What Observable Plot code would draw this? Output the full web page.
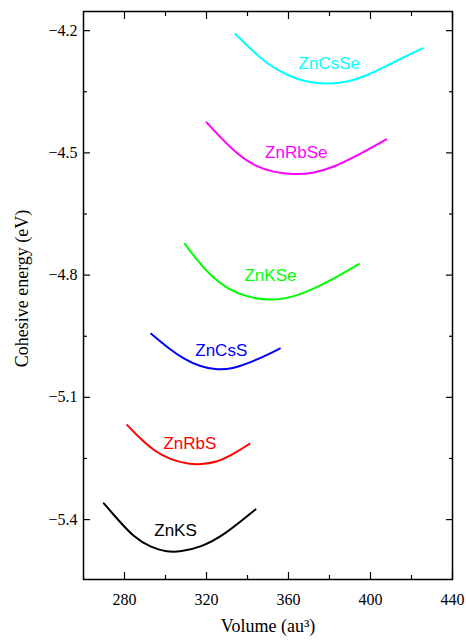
<!DOCTYPE html>
<html><head><meta charset="utf-8">
<script src="https://cdn.jsdelivr.net/npm/d3@7"></script>
<script src="https://cdn.jsdelivr.net/npm/@observablehq/plot@0.6"></script>
<style>body{margin:0;background:#fff}#chart svg{display:block}</style>
</head><body><div id="chart"></div>
<script>
const names  = ["ZnKS", "ZnRbS", "ZnCsS", "ZnKSe", "ZnRbSe", "ZnCsSe"];
const colors = ["#000000", "#ff0000", "#0000ff", "#00ff00", "#ff00ff", "#00ffff"];

const volZnKS   = [269.9, 276.4, 284.5, 292.7, 300.8, 307.3, 317.1, 328.4, 343.9];
const eZnKS     = [-5.360, -5.398, -5.443, -5.468, -5.480, -5.479, -5.468, -5.439, -5.375];
const volZnRbS  = [281.3, 287.8, 294.3, 302.4, 310.6, 317.1, 325.2, 333.3, 341.0];
const eZnRbS    = [-5.168, -5.202, -5.231, -5.253, -5.263, -5.265, -5.259, -5.239, -5.214];
const volZnCsS  = [293.0, 300.8, 308.9, 317.1, 325.2, 333.3, 341.5, 349.6, 355.8];
const eZnCsS    = [-4.944, -4.977, -5.006, -5.025, -5.033, -5.029, -5.014, -4.996, -4.980];
const volZnKSe  = [309.4, 315.5, 322.0, 330.1, 339.9, 351.2, 362.6, 374.0, 385.4, 394.3];
const eZnKSe    = [-4.723, -4.764, -4.801, -4.834, -4.854, -4.863, -4.854, -4.830, -4.799, -4.773];
const volZnRbSe = [320.0, 326.8, 335.0, 343.1, 352.8, 362.6, 372.3, 382.1, 393.5, 407.7];
const eZnRbSe   = [-4.425, -4.462, -4.503, -4.531, -4.548, -4.553, -4.550, -4.535, -4.507, -4.467];
const volZnCsSe = [334.1, 341.5, 349.6, 359.4, 369.1, 378.9, 388.6, 398.4, 408.1, 417.9, 425.5];
const eZnCsSe   = [-4.208, -4.245, -4.282, -4.310, -4.327, -4.331, -4.327, -4.310, -4.286, -4.261, -4.243];

const labelVol = [304.9, 311.9, 327.2, 351.2, 363.8, 379.9];
const labelE   = [-5.426, -5.213, -4.984, -4.801, -4.499, -4.280];

const xMajor = [280, 320, 360, 400, 440];
const xMinor = [300, 340, 380, 420];
const yMajor = [-5.4, -5.1, -4.8, -4.5, -4.2];
const yMinor = [-5.25, -4.95, -4.65, -4.35];

const xTitle = "Volume (au³)";
const yTitle = "Cohesive energy (eV)";

const vols = [volZnKS, volZnRbS, volZnCsS, volZnKSe, volZnRbSe, volZnCsSe];
const es   = [eZnKS, eZnRbS, eZnCsS, eZnKSe, eZnRbSe, eZnCsSe];
const series = names.map((n, i) => vols[i].map((v, j) => ({name: n, v, e: es[i][j]})));
const labels = names.map((n, i) => ({name: n, v: labelVol[i], e: labelE[i], color: colors[i]}));
const fmt = d => "\u2212" + Math.abs(d).toFixed(1);

const tickAxes = [];
for (const [anchor, size, ticks] of [["bottom", -7, xMajor], ["bottom", -4, xMinor], ["top", -7, xMajor], ["top", -4, xMinor]]) {
  tickAxes.push(Plot.axisX(ticks, {anchor, tickSize: size, fill: "none", label: null, strokeWidth: 1.2}));
}
for (const [anchor, size, ticks] of [["left", -7, yMajor], ["left", -4, yMinor], ["right", -7, yMajor], ["right", -4, yMinor]]) {
  tickAxes.push(Plot.axisY(ticks, {anchor, tickSize: size, fill: "none", label: null, strokeWidth: 1.2}));
}

const chart = Plot.plot({
  width: 466,
  height: 640,
  marginLeft: 83,
  marginRight: 14,
  marginTop: 11,
  marginBottom: 61,
  style: {fontFamily: "'Liberation Serif', 'Times New Roman', serif", fontSize: "16px", color: "#000", background: "#fff"},
  x: {domain: [260, 440]},
  y: {domain: [-5.547, -4.153]},
  marks: [
    ...series.map((s, i) => Plot.line(s, {x: "v", y: "e", stroke: colors[i], strokeWidth: 2, curve: "basis"})),
    Plot.text(labels, {x: "v", y: "e", text: "name", fill: "color", fontFamily: "'Liberation Sans', Arial, sans-serif", fontSize: 17, lineAnchor: "middle"}),
    ...tickAxes,
    Plot.axisX(xMajor, {anchor: "bottom", tickSize: 0, tickPadding: 14, label: null, fontSize: 16}),
    Plot.text(yMajor, {y: d => d, text: fmt, frameAnchor: "left", textAnchor: "end", lineAnchor: "middle", dx: -6, fontSize: 16}),
    Plot.text([xTitle], {frameAnchor: "bottom", textAnchor: "middle", dy: 47, fontSize: 18, lineAnchor: "middle"}),
    Plot.text([yTitle], {frameAnchor: "left", textAnchor: "middle", rotate: -90, dx: -61, dy: -7, fontSize: 18, lineAnchor: "middle"}),
    Plot.frame({stroke: "#000", strokeWidth: 1.5})
  ]
});
document.getElementById("chart").append(chart);
</script>
</body></html>
